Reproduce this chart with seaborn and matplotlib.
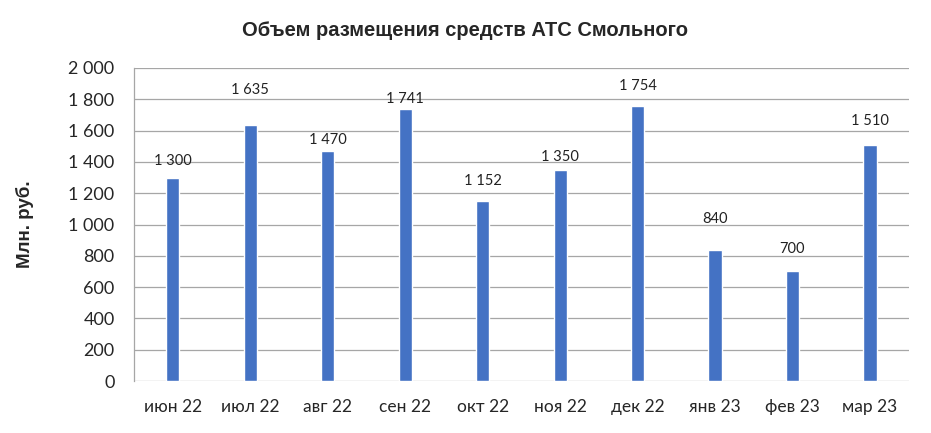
import pandas as pd
import matplotlib.pyplot as plt
import seaborn as sns

# Chart data
months = ['июн 22', 'июл 22', 'авг 22', 'сен 22', 'окт 22',
          'ноя 22', 'дек 22', 'янв 23', 'фев 23', 'мар 23']
volumes = [1300, 1635, 1470, 1741, 1152, 1350, 1754, 840, 700, 1510]
tick_values = [0, 200, 400, 600, 800, 1000, 1200, 1400, 1600, 1800, 2000]

# label lift above each bar, in pixels (labels were placed by hand in the original)
label_lift = [17, 35, 11, 10, 20, 13, 20, 31, 22, 24]

sns.set_style('white')
plt.rcParams['font.family'] = ['Lato', 'DejaVu Sans']

df = pd.DataFrame({'month': months, 'volume': volumes})

fig = plt.figure(figsize=(9.31, 4.33), dpi=100)
ax = fig.add_axes([0.144, 0.120, 0.832, 0.723])

sns.barplot(data=df, x='month', y='volume', color='#4472C4', width=0.17,
            saturation=1, ax=ax, zorder=3)

ax.set_ylim(0, 2000)
ax.set_yticks(tick_values)
ax.set_yticklabels([f'{v:,}'.replace(',', ' ') for v in tick_values], fontsize=13)
ax.tick_params(axis='x', labelsize=12.5, pad=13, length=0)
ax.tick_params(axis='y', pad=14, length=0)
ax.yaxis.grid(True, color='#a6a6a6', linewidth=0.9, zorder=0)
ax.set_axisbelow(True)

for s in ['top', 'right', 'bottom']:
    ax.spines[s].set_visible(False)
ax.spines['left'].set_color('#a6a6a6')
ax.spines['left'].set_linewidth(0.9)

for i, (v, lift) in enumerate(zip(volumes, label_lift)):
    ax.annotate(f'{v:,}'.replace(',', ' '), (i, v), xytext=(0, lift),
                textcoords='offset pixels', ha='center', va='center',
                fontsize=10.5, color='#222222')

ax.set_xlabel('')
ax.set_ylabel('Млн. руб.', fontsize=13.5, fontweight='bold',
              family=['Liberation Sans', 'DejaVu Sans'], labelpad=25)

fig.text(0.5, 0.93, 'Объем размещения средств АТС Смольного', ha='center',
         va='center', fontsize=14.5, fontweight='bold',
         family=['Liberation Sans', 'DejaVu Sans'])

fig.savefig('out.png', dpi=100)
plt.close(fig)
